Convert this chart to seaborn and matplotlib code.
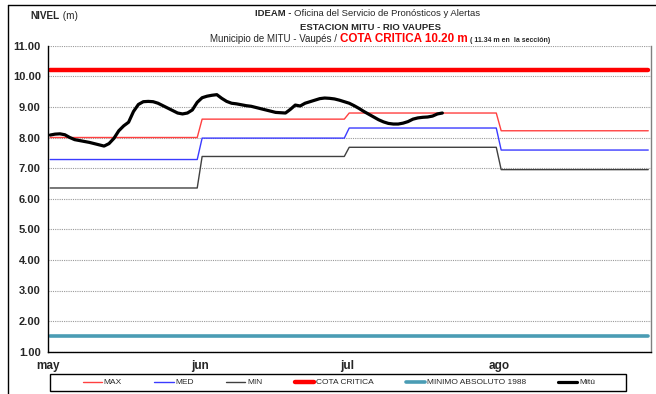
import numpy as np
import pandas as pd
import matplotlib
matplotlib.use("Agg")
import matplotlib.pyplot as plt
from matplotlib.lines import Line2D
from matplotlib.patches import Rectangle
import seaborn as sns

# --- data -----------------------------------------------------------------
months = ["may", "jun", "jul", "ago"]
month_days = [31, 30, 31, 31]

# monthly reference levels (m)
nivel_max = [8.00, 8.60, 8.80, 8.22]
nivel_med = [7.28, 7.98, 8.31, 7.59]
nivel_min = [6.35, 7.38, 7.68, 6.95]

cota_critica = 10.20
minimo_absoluto = 1.50

# daily observed level at Mitú, from 1 May onwards (m)
mitu = [8.08, 8.11, 8.12, 8.09, 8.00, 7.93, 7.90, 7.87, 7.84, 7.80,
        7.76, 7.72, 7.80, 7.97, 8.22, 8.38, 8.50, 8.85, 9.08, 9.17,
        9.18, 9.17, 9.12, 9.04, 8.96, 8.88, 8.80, 8.77, 8.80, 8.90,
        9.15, 9.30, 9.35, 9.38, 9.40, 9.28, 9.18, 9.12, 9.10, 9.07,
        9.04, 9.02, 8.98, 8.94, 8.90, 8.86, 8.82, 8.81, 8.80, 8.92,
        9.06, 9.03, 9.12, 9.17, 9.22, 9.27, 9.29, 9.28, 9.26, 9.22,
        9.17, 9.12, 9.04, 8.95, 8.85, 8.76, 8.67, 8.58, 8.51, 8.46,
        8.44, 8.44, 8.47, 8.52, 8.60, 8.64, 8.66, 8.67, 8.70, 8.77,
        8.80]

yticks = [1, 2, 3, 4, 5, 6, 7, 8, 9, 10, 11]

# --- build daily frames ------------------------------------------------------
n_days = sum(month_days)
day = np.arange(n_days)
month_idx = np.repeat(np.arange(len(months)), month_days)
ref = pd.DataFrame({
    "dia": day,
    "MAX": np.array(nivel_max)[month_idx],
    "MED": np.array(nivel_med)[month_idx],
    "MIN": np.array(nivel_min)[month_idx],
    "COTA CRITICA": np.full(n_days, cota_critica),
    "MINIMO ABSOLUTO 1988": np.full(n_days, minimo_absoluto),
})
obs = pd.DataFrame({"dia": np.arange(len(mitu)), "Mitú": mitu})

# --- figure ----------------------------------------------------------------
sns.set_style("white")
FONT = ["Liberation Sans", "DejaVu Sans"]
plt.rcParams["font.family"] = FONT

W, H = 656, 394
fig = plt.figure(figsize=(W / 100, H / 100), dpi=100)
fig.patch.set_facecolor("white")
ax = fig.add_axes([47.7 / W, 1 - 351.7 / H, (650.7 - 47.7) / W, (351.7 - 45.7) / H])

styles = [
    ("MAX", "#ff4040", 1.0),
    ("MED", "#3b3bff", 1.0),
    ("MIN", "#404040", 1.0),
    ("COTA CRITICA", "#ff0000", 3.2),
    ("MINIMO ABSOLUTO 1988", "#4a9cb4", 2.6),
]
for name, color, lw in styles:
    sns.lineplot(data=ref, x="dia", y=name, ax=ax, color=color,
                 linewidth=lw, label=name)
sns.lineplot(data=obs, x="dia", y="Mitú", ax=ax, color="black",
             linewidth=2.3, label="Mitú")

ax.set_xlim(-0.5, n_days - 0.5)
ax.set_ylim(1, 11)
ax.set_yticks(yticks)
ax.set_yticklabels([f"{v:.2f}" for v in yticks], fontsize=8, fontweight="bold")
starts = np.concatenate([[0], np.cumsum(month_days)[:-1]]) - 0.5
ax.set_xticks(starts)
ax.set_xticklabels(months, fontsize=8.5, fontweight="bold")
ax.set_xlabel("")
ax.set_ylabel("")
ax.tick_params(axis="both", direction="out", length=3, width=0.8,
               color="black", pad=2)
ax.tick_params(axis="x", pad=3)

ax.yaxis.grid(True, linestyle=(0, (1, 1)), color="#9a9a9a", linewidth=0.8)
ax.xaxis.grid(False)
ax.set_axisbelow(True)
for side in ("left", "bottom"):
    ax.spines[side].set_color("black")
    ax.spines[side].set_linewidth(1.0)
ax.spines["right"].set_color("#808080")
ax.spines["right"].set_linewidth(1.0)
ax.spines["top"].set_visible(False)

# legend strip under the axes: boxed frame plus frameless legend inside
ax.get_legend().remove()
handles, labels = ax.get_legend_handles_labels()
fig.add_artist(Rectangle((50 / W, 1 - 391 / H), (626 - 50) / W, 17 / H,
                         transform=fig.transFigure, facecolor="white",
                         edgecolor="black", linewidth=1.0))
leg = fig.legend(handles, labels, loc="center", ncol=6,
                 bbox_to_anchor=(339 / W, 1 - 382.5 / H),
                 fontsize=6.0, frameon=False,
                 handlelength=2.3, handletextpad=0.2, columnspacing=3.9,
                 borderpad=0.2)

# outer frame (top and left edges)
fig.add_artist(Line2D([8 / W, 8 / W], [0, 1 - 5 / H], transform=fig.transFigure,
                      color="black", linewidth=1.0))
fig.add_artist(Line2D([8 / W, 1], [1 - 5 / H, 1 - 5 / H], transform=fig.transFigure,
                      color="black", linewidth=1.0))

# --- header text -------------------------------------------------------------
renderer = fig.canvas.get_renderer()


def text_runs(cx, y, runs):
    """Draw several differently styled pieces of text as one centred line."""
    pieces = []
    total = 0.0
    for s, kw in runs:
        t = fig.text(0, 0, s, va="baseline", ha="left", **kw)
        w = t.get_window_extent(renderer).width
        pieces.append((t, w))
        total += w
    x = cx - total / 2
    for t, w in pieces:
        t.set_position((x / W, 1 - y / H))
        x += w


text_runs(54, 19, [("NIVEL", dict(fontsize=7.2, fontweight="bold")),
                   (" (m)", dict(fontsize=7.2))])
text_runs(368, 16.5, [("IDEAM - ", dict(fontsize=6.8, fontweight="bold")),
                      ("Oficina del Servicio de Pronósticos y Alertas", dict(fontsize=6.8))])
text_runs(371, 29.5, [("ESTACION MITU - RIO VAUPES", dict(fontsize=6.8, fontweight="bold"))])
text_runs(380, 42, [("Municipio de MITU - Vaupés / ", dict(fontsize=7.0)),
                    ("COTA CRITICA 10.20 m", dict(fontsize=8.4, fontweight="bold", color="#ff0000")),
                    (" ( 11.34 m en  la sección)", dict(fontsize=5.0, fontweight="bold"))])

fig.savefig("out.png", dpi=100, facecolor="white")
